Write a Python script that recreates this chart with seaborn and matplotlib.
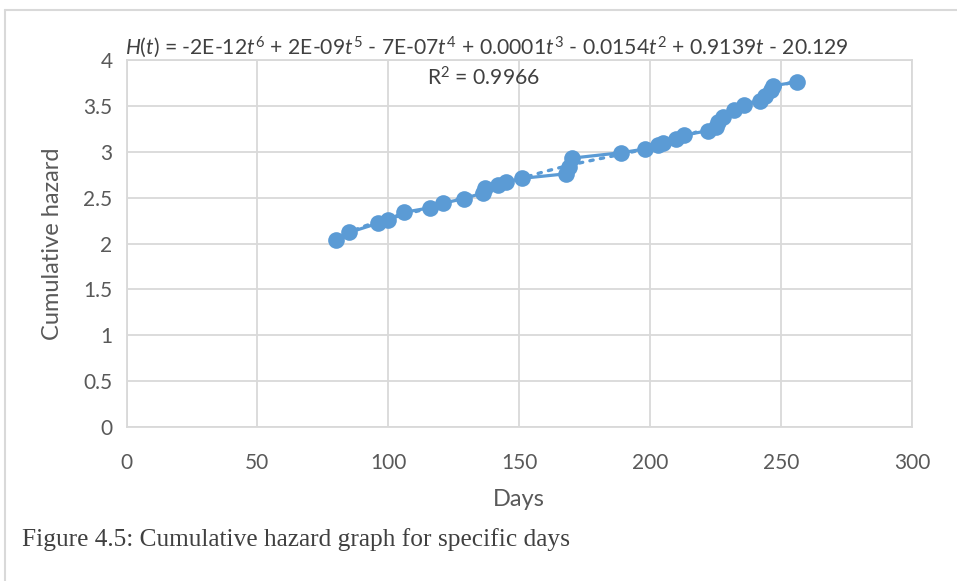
import numpy as np
import pandas as pd
import matplotlib
matplotlib.use("Agg")
import matplotlib.pyplot as plt
import seaborn as sns

# values
days = [80, 85, 96, 100, 106, 116, 121, 129, 136, 137, 142, 145, 151,
        168, 169, 170, 189, 198, 203, 205, 210, 213, 222, 225, 226, 228,
        232, 236, 242, 244, 246, 247, 256]
hazard = [2.04, 2.12, 2.22, 2.26, 2.34, 2.39, 2.44, 2.49, 2.55, 2.60, 2.64, 2.67, 2.71,
          2.76, 2.83, 2.93, 2.99, 3.03, 3.07, 3.10, 3.14, 3.18, 3.23, 3.27, 3.32, 3.38,
          3.45, 3.51, 3.55, 3.61, 3.67, 3.72, 3.76]
x_ticks = [0, 50, 100, 150, 200, 250, 300]
y_ticks = [0, 0.5, 1, 1.5, 2, 2.5, 3, 3.5, 4]
y_tick_labels = ["0", "0.5", "1", "1.5", "2", "2.5", "3", "3.5", "4"]

df = pd.DataFrame({"Days": days, "Hazard": hazard})

sns.set_style("white")
plt.rcParams["font.family"] = ["Lato", "DejaVu Sans"]
plt.rcParams["mathtext.fontset"] = "custom"
plt.rcParams["mathtext.rm"] = "Lato"
plt.rcParams["mathtext.it"] = "Lato:italic"

blue = "#5B9BD5"
grey_text = "#595959"
grid = "#D9D9D9"

fig = plt.figure(figsize=(9.57, 5.81), dpi=100)
ax = fig.add_axes([126.5 / 957, 1 - 427 / 581, (912 - 126.5) / 957, (427 - 60) / 581])

# 6th order polynomial trendline (dotted)
sns.regplot(data=df, x="Days", y="Hazard", order=6, ci=None, scatter=False,
            truncate=True, ax=ax,
            line_kws=dict(color=blue, lw=2.4, ls=(0, (1, 2.2)), dash_capstyle="round"))
# data line with markers
sns.lineplot(data=df, x="Days", y="Hazard", ax=ax, color=blue, lw=2.3,
             marker="o", markersize=12, markeredgewidth=0, sort=False)

ax.set_xlim(0, 300)
ax.set_ylim(0, 4)
ax.set_xticks(x_ticks)
ax.set_yticks(y_ticks)
ax.set_yticklabels(y_tick_labels)
ax.grid(True, color=grid, lw=1.3)
ax.set_axisbelow(True)
for s in ax.spines.values():
    s.set_color(grid)
    s.set_linewidth(1.3)
ax.tick_params(length=0, labelsize=15, labelcolor=grey_text)
ax.tick_params(axis="x", pad=19)
ax.tick_params(axis="y", pad=10)
ax.set_xlabel("Days", fontsize=17, color=grey_text)
ax.set_ylabel("Cumulative hazard", fontsize=17, color=grey_text)
ax.xaxis.set_label_coords(0.5, (427 - 489) / 367)
ax.yaxis.set_label_coords((63 - 126.5) / 785.5, 0.5)

eq = (r"$\it{H(t)}$ = -2E-12$\it{t}^{6}$ + 2E-09$\it{t}^{5}$ - 7E-07$\it{t}^{4}$"
      r" + 0.0001$\it{t}^{3}$ - 0.0154$\it{t}^{2}$ + 0.9139$\it{t}$ - 20.129")
fig.text(125 / 957, 1 - 47 / 581, eq, fontsize=15.2, color="#404040",
         ha="left", va="center")
fig.text(483 / 957, 1 - 78 / 581, r"R$^{2}$ = 0.9966", fontsize=15.2, color="#404040",
         ha="center", va="center")

fig.text(22 / 957, 1 - 540 / 581, "Figure 4.5: Cumulative hazard graph for specific days",
         fontsize=18.3, family="Liberation Serif", color="#404040", ha="left", va="center")

# outer chart border
fig.add_artist(plt.Line2D([5 / 957, 5 / 957], [0, 1 - 10 / 581], transform=fig.transFigure,
                          color=grid, lw=1.5))
fig.add_artist(plt.Line2D([5 / 957, 1], [1 - 10 / 581, 1 - 10 / 581], transform=fig.transFigure,
                          color=grid, lw=1.5))

fig.savefig("out.png", dpi=100)
